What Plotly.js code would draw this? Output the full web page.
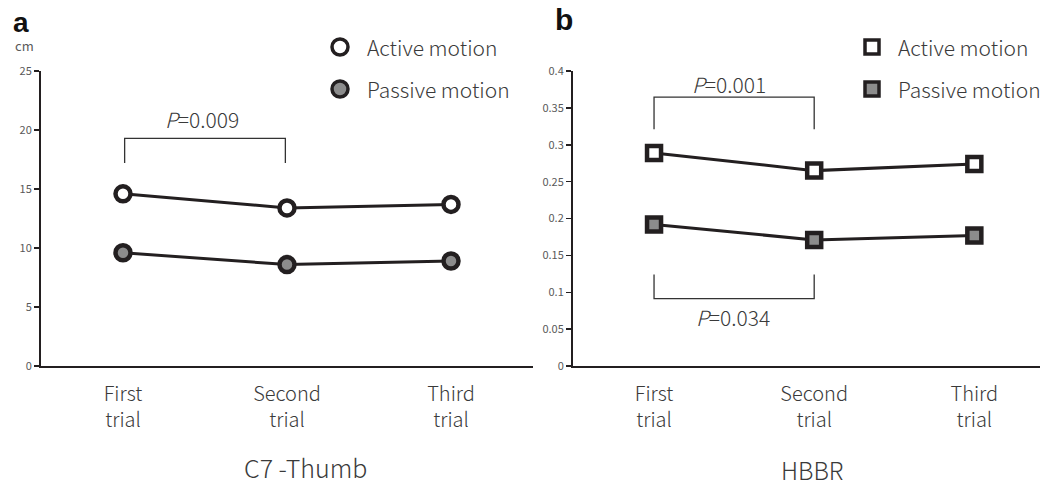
<!DOCTYPE html>
<html>
<head>
<meta charset="utf-8">
<script src="https://cdn.plot.ly/plotly-3.0.1.min.js"></script>
<style>html,body{margin:0;padding:0;background:#fff;}#chart{width:1040px;height:487px;}</style>
</head>
<body>
<div id="chart"></div>
<script>
// ---- data ----
const trials = ["First trial", "Second trial", "Third trial"];
const trialLabels = ["First<br>trial", "Second<br>trial", "Third<br>trial"];
const c7Active = [14.6, 13.4, 13.7];
const c7Passive = [9.6, 8.6, 8.9];
const hbbrActive = [0.289, 0.265, 0.274];
const hbbrPassive = [0.192, 0.171, 0.177];
const c7Ticks = [0, 5, 10, 15, 20, 25];
const hbbrTicks = [0, 0.05, 0.1, 0.15, 0.2, 0.25, 0.3, 0.35, 0.4];
const seriesNames = ["Active motion", "Passive motion"];
const pC7 = "0.009";
const pHbbrActive = "0.001";
const pHbbrPassive = "0.034";

const FONT = "Noto Sans CJK JP, Noto Sans, sans-serif";
const DARK = "#231f20";
const GREY = "#8c8c8c";
const TXT = "#3a3a3a";

function trace(y, xa, ya, symbol, fill, size) {
  return {
    x: trials, y: y, xaxis: xa, yaxis: ya, type: "scatter", mode: "lines+markers",
    line: {color: DARK, width: 3},
    marker: {symbol: symbol, size: size, color: fill, line: {color: DARK, width: 4.5}},
    showlegend: false, hoverinfo: "skip"
  };
}

const data = [
  trace(c7Active, "x", "y", "circle", "#ffffff", 15),
  trace(c7Passive, "x", "y", "circle", GREY, 15),
  trace(hbbrActive, "x2", "y2", "square", "#ffffff", 14),
  trace(hbbrPassive, "x2", "y2", "square", GREY, 14)
];

const yDom = [0.2485, 0.854];
const tickFont = {family: FONT, size: 11, color: "#595959"};
const xTickFont = {family: FONT, size: 20, color: TXT, weight: 300};
const txtFont = (s) => ({family: FONT, size: s, color: TXT, weight: 300});

const layout = {
  width: 1040, height: 487,
  margin: {l: 0, r: 0, t: 0, b: 0},
  paper_bgcolor: "#fff", plot_bgcolor: "#fff",
  font: {family: FONT, color: TXT},
  xaxis: {
    domain: [41/1040, 533/1040], type: "category", range: [-0.5, 2.5],
    tickvals: trials, ticktext: trialLabels, tickfont: xTickFont, ticklabelstandoff: 9,
    showline: true, linecolor: DARK, linewidth: 2, ticks: "", showgrid: false, zeroline: false,
    anchor: "y"
  },
  yaxis: {
    domain: yDom, range: [0, 25], tickvals: c7Ticks, tickfont: tickFont,
    showline: true, linecolor: DARK, linewidth: 2, ticks: "outside", ticklen: 5, tickwidth: 1.5, tickcolor: DARK,
    showgrid: false, zeroline: false, anchor: "x"
  },
  xaxis2: {
    domain: [573/1040, 1], type: "category", range: [-0.506, 2.41],
    tickvals: trials, ticktext: trialLabels, tickfont: xTickFont, ticklabelstandoff: 9,
    showline: true, linecolor: DARK, linewidth: 2, ticks: "", showgrid: false, zeroline: false,
    anchor: "y2"
  },
  yaxis2: {
    domain: yDom, range: [0, 0.4], tickvals: hbbrTicks, tickfont: tickFont,
    showline: true, linecolor: DARK, linewidth: 2, ticks: "outside", ticklen: 5, tickwidth: 1.5, tickcolor: DARK,
    showgrid: false, zeroline: false, anchor: "x2"
  },
  shapes: [
    // bracket a
    {type: "path", xref: "x", yref: "y", path: "M 0.01,17.2 L 0.01,19.3 L 0.99,19.3 L 0.99,17.2", line: {color: "#333", width: 1.3}},
    // bracket b top
    {type: "path", xref: "x2", yref: "y2", path: "M 0,0.321 L 0,0.3647 L 1,0.3647 L 1,0.321", line: {color: "#333", width: 1.3}},
    // bracket b bottom
    {type: "path", xref: "x2", yref: "y2", path: "M 0,0.124 L 0,0.0915 L 1,0.0915 L 1,0.124", line: {color: "#333", width: 1.3}},
    // legend a
    {type: "circle", xref: "paper", yref: "paper", x0: 332/1040, x1: 348/1040, y0: 1-55/487, y1: 1-39/487, fillcolor: "#fff", line: {color: DARK, width: 3.5}},
    {type: "circle", xref: "paper", yref: "paper", x0: 332/1040, x1: 348/1040, y0: 1-97/487, y1: 1-81/487, fillcolor: GREY, line: {color: DARK, width: 3.5}},
    // legend b
    {type: "rect", xref: "paper", yref: "paper", x0: 865/1040, x1: 879/1040, y0: 1-54/487, y1: 1-40/487, fillcolor: "#fff", line: {color: DARK, width: 3.5}},
    {type: "rect", xref: "paper", yref: "paper", x0: 865/1040, x1: 879/1040, y0: 1-96/487, y1: 1-82/487, fillcolor: GREY, line: {color: DARK, width: 3.5}}
  ],
  annotations: [
    {xref: "paper", yref: "paper", x: 11/1040, y: 1-23/487, xanchor: "left", yanchor: "middle", text: "<b>a</b>", showarrow: false, font: {family: "Liberation Sans, Arial, sans-serif", size: 28, color: "#111"}},
    {xref: "paper", yref: "paper", x: 553/1040, y: 1-20/487, xanchor: "left", yanchor: "middle", text: "<b>b</b>", showarrow: false, font: {family: "Liberation Sans, Arial, sans-serif", size: 30, color: "#111"}},
    {xref: "paper", yref: "paper", x: 13/1040, y: 1-46/487, xanchor: "left", yanchor: "middle", text: "cm", showarrow: false, font: {family: FONT, size: 13, color: "#595959"}},
    {xref: "x", yref: "y", x: 0.48, y: 20.9, text: "<i>P</i>=" + pC7, showarrow: false, font: txtFont(21)},
    {xref: "x2", yref: "y2", x: 0.47, y: 0.382, text: "<i>P</i>=" + pHbbrActive, showarrow: false, font: txtFont(21)},
    {xref: "x2", yref: "y2", x: 0.49, y: 0.066, text: "<i>P</i>=" + pHbbrPassive, showarrow: false, font: txtFont(21)},
    {xref: "paper", yref: "paper", x: 365/1040, y: 1-47/487, xanchor: "left", yanchor: "middle", text: seriesNames[0], showarrow: false, font: txtFont(21)},
    {xref: "paper", yref: "paper", x: 365/1040, y: 1-89/487, xanchor: "left", yanchor: "middle", text: seriesNames[1], showarrow: false, font: txtFont(21)},
    {xref: "paper", yref: "paper", x: 896/1040, y: 1-47/487, xanchor: "left", yanchor: "middle", text: seriesNames[0], showarrow: false, font: txtFont(21)},
    {xref: "paper", yref: "paper", x: 896/1040, y: 1-89/487, xanchor: "left", yanchor: "middle", text: seriesNames[1], showarrow: false, font: txtFont(21)},
    {xref: "paper", yref: "paper", x: 305/1040, y: 1-467/487, xanchor: "center", yanchor: "middle", text: "C7 -Thumb", showarrow: false, font: txtFont(25)},
    {xref: "paper", yref: "paper", x: 812/1040, y: 1-469/487, xanchor: "center", yanchor: "middle", text: "HBBR", showarrow: false, font: txtFont(24)}
  ]
};

Plotly.newPlot("chart", data, layout, {staticPlot: true, displayModeBar: false});
</script>
</body>
</html>
